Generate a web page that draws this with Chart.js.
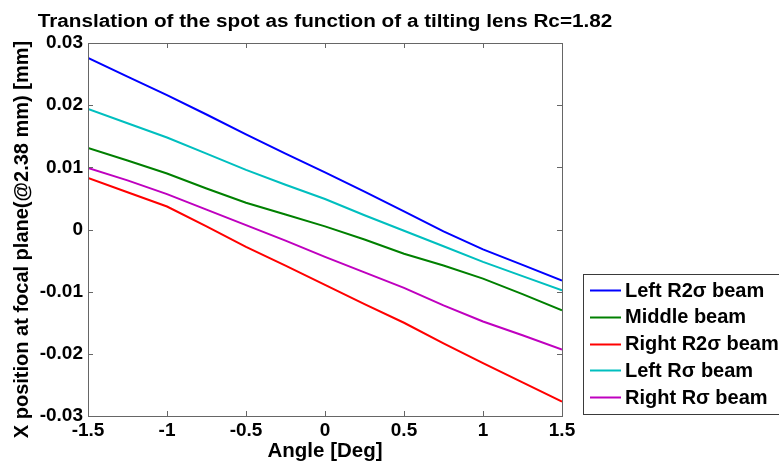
<!DOCTYPE html>
<html>
<head>
<meta charset="utf-8">
<script src="https://cdn.jsdelivr.net/npm/chart.js@4/dist/chart.umd.min.js"></script>
<style>
html,body{margin:0;padding:0;background:#fff;}
#wrap{width:779px;height:464px;position:relative;}
canvas{display:block;}
</style>
</head>
<body>
<div id="wrap"><canvas id="c" width="779" height="464"></canvas></div>
<script>
// ---- data ----
const angles = [-1.5, -1.25, -1.0, -0.75, -0.5, -0.25, 0, 0.25, 0.5, 0.75, 1.0, 1.25, 1.5];
const leftR2s  = [0.0276, 0.0246, 0.0216, 0.0185, 0.0153, 0.0122, 0.0092, 0.0061, 0.0029, -0.0003, -0.0032, -0.0057, -0.0082];
const middle   = [0.0131, 0.0111, 0.0090, 0.0066, 0.0043, 0.0024, 0.0005, -0.0016, -0.0039, -0.0058, -0.0079, -0.0104, -0.0130];
const rightR2s = [0.0083, 0.0060, 0.0037, 0.0005, -0.0028, -0.0058, -0.0089, -0.0120, -0.0150, -0.0183, -0.0215, -0.0246, -0.0277];
const leftRs   = [0.0194, 0.0171, 0.0148, 0.0122, 0.0096, 0.0072, 0.0049, 0.0023, -0.0002, -0.0027, -0.0052, -0.0075, -0.0098];
const rightRs  = [0.0099, 0.0079, 0.0057, 0.0032, 0.0007, -0.0018, -0.0044, -0.0069, -0.0094, -0.0122, -0.0148, -0.0170, -0.0193];
const seriesNames = ['Left R2\u03c3 beam', 'Middle beam', 'Right R2\u03c3 beam', 'Left R\u03c3 beam', 'Right R\u03c3 beam'];
const xTicks = [-1.5, -1, -0.5, 0, 0.5, 1, 1.5];
const xTickLabels = ['-1.5', '-1', '-0.5', '0', '0.5', '1', '1.5'];
const yTicks = [-0.03, -0.02, -0.01, 0, 0.01, 0.02, 0.03];
const yTickLabels = ['-0.03', '-0.02', '-0.01', '0', '0.01', '0.02', '0.03'];
const titleText = 'Translation of the spot as function of a tilting lens Rc=1.82';
const xTitle = 'Angle [Deg]';
const yTitle = 'X position at focal plane(@2.38 mm) [mm]';

// ---- styles ----
const colors = ['#0000ff', '#008000', '#ff0000', '#00bfbf', '#bf00bf'];
const FONT = '"Liberation Sans", Arial, sans-serif';
const allSeries = [leftR2s, middle, rightR2s, leftRs, rightRs];

const datasets = allSeries.map((s, i) => ({
  label: seriesNames[i],
  data: angles.map((a, j) => ({x: a, y: s[j]})),
  borderColor: colors[i],
  backgroundColor: colors[i],
  borderWidth: 2,
  pointRadius: 0,
  tension: 0,
  fill: false
}));

function tickLabel(vals, labels) {
  return function(v) {
    for (let i = 0; i < vals.length; i++) if (Math.abs(vals[i] - v) < 1e-9) return labels[i];
    return '';
  };
}

const decor = {
  id: 'decor',
  afterDraw(chart) {
    const ctx = chart.ctx;
    const a = chart.chartArea;
    const xs = chart.scales.x, ys = chart.scales.y;
    ctx.save();
    // box
    ctx.strokeStyle = '#666666';
    ctx.lineWidth = 1;
    ctx.strokeRect(Math.round(a.left) + 0.5, Math.round(a.top) + 0.5, Math.round(a.right - a.left), Math.round(a.bottom - a.top));
    // inward ticks
    const tl = 5;
    ctx.beginPath();
    xTicks.forEach(v => {
      const px = Math.round(xs.getPixelForValue(v)) + 0.5;
      ctx.moveTo(px, a.bottom); ctx.lineTo(px, a.bottom - tl);
      ctx.moveTo(px, a.top); ctx.lineTo(px, a.top + tl);
    });
    yTicks.forEach(v => {
      const py = Math.round(ys.getPixelForValue(v)) + 0.5;
      ctx.moveTo(a.left, py); ctx.lineTo(a.left + tl, py);
      ctx.moveTo(a.right, py); ctx.lineTo(a.right - tl, py);
    });
    ctx.stroke();

    // title (slightly wide rendering like the reference)
    ctx.fillStyle = '#000';
    ctx.font = 'bold 18px ' + FONT;
    ctx.textAlign = 'center';
    ctx.textBaseline = 'alphabetic';
    ctx.save();
    ctx.translate((a.left + a.right) / 2, 26.5);
    ctx.scale(1.15, 1);
    ctx.fillText(titleText, 0, 0);
    ctx.restore();
    // x title
    ctx.font = 'bold 20.5px ' + FONT;
    ctx.fillText(xTitle, (a.left + a.right) / 2, 457);
    // y title
    ctx.save();
    ctx.translate(28, (a.top + a.bottom) / 2 + 10);
    ctx.rotate(-Math.PI / 2);
    ctx.font = 'bold 20px ' + FONT;
    ctx.fillText(yTitle, 0, 0);
    ctx.restore();

    // legend
    const lx = 583.5, ly = 274.5, lw = 240, lh = 140;
    ctx.fillStyle = '#fff';
    ctx.fillRect(lx, ly, lw, lh);
    ctx.strokeStyle = '#3a3a3a';
    ctx.lineWidth = 1;
    ctx.strokeRect(lx, ly, lw, lh);
    ctx.font = 'bold 20px ' + FONT;
    ctx.textAlign = 'left';
    ctx.textBaseline = 'middle';
    chart.data.datasets.forEach((d, i) => {
      const cy = 290 + i * 26.8;
      ctx.strokeStyle = d.borderColor;
      ctx.lineWidth = 2;
      ctx.beginPath();
      ctx.moveTo(590, Math.round(cy) + 0.5);
      ctx.lineTo(621, Math.round(cy) + 0.5);
      ctx.stroke();
      ctx.fillStyle = '#000';
      ctx.fillText(d.label, 625, cy + 1);
    });
    ctx.restore();
  }
};

new Chart(document.getElementById('c'), {
  type: 'line',
  data: { datasets },
  options: {
    responsive: false,
    animation: false,
    devicePixelRatio: 1,
    layout: { padding: { top: 43, right: 217, left: 0, bottom: 0 } },
    plugins: { legend: { display: false }, title: { display: false }, tooltip: { enabled: false } },
    scales: {
      x: {
        type: 'linear',
        min: -1.5, max: 1.5,
        afterBuildTicks: s => { s.ticks = xTicks.map(v => ({value: v})); },
        afterFit: s => { s.height = 48; },
        grid: { display: false, drawTicks: false },
        border: { display: false },
        ticks: { autoSkip: false, maxRotation: 0, padding: 3, color: '#000',
          font: { family: FONT, size: 19, weight: 'bold' },
          callback: tickLabel(xTicks, xTickLabels) }
      },
      y: {
        type: 'linear',
        min: -0.03, max: 0.03,
        afterBuildTicks: s => { s.ticks = yTicks.map(v => ({value: v})); },
        afterFit: s => { s.width = 88; },
        grid: { display: false, drawTicks: false },
        border: { display: false },
        ticks: { autoSkip: false, padding: 5, color: '#000',
          font: { family: FONT, size: 19, weight: 'bold' },
          callback: tickLabel(yTicks, yTickLabels) }
      }
    }
  },
  plugins: [decor]
});
</script>
</body>
</html>
